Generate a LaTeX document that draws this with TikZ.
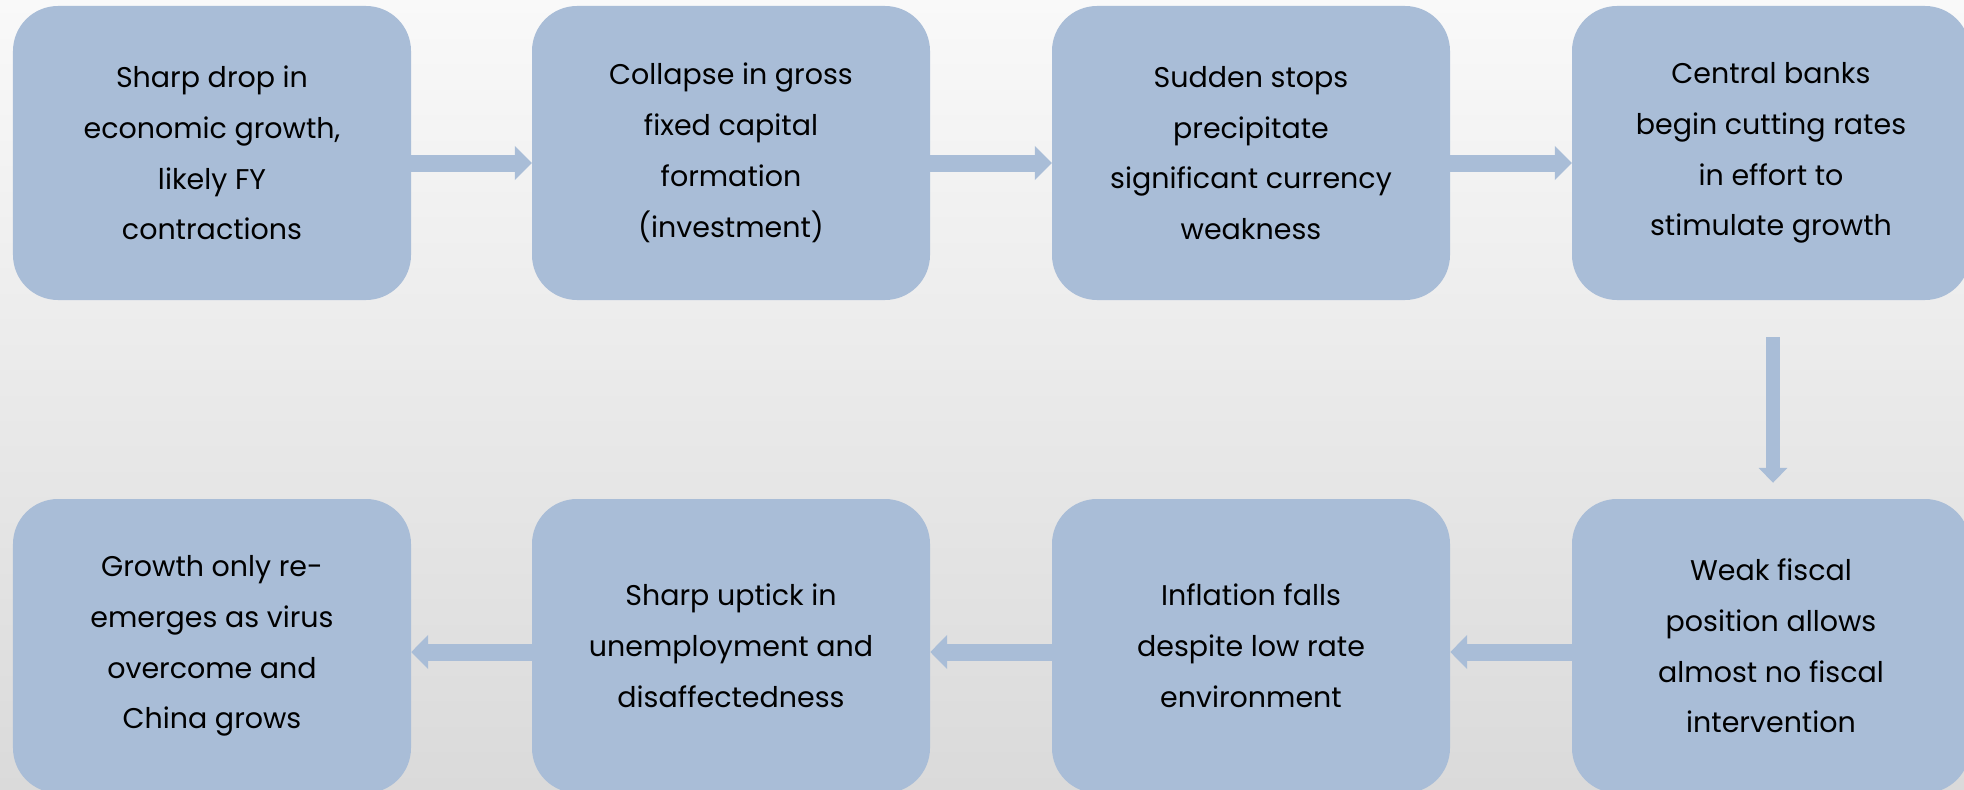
\documentclass[tikz,border=0pt]{standalone}
\usepackage{fontspec}
\setmainfont{Poppins}
\usetikzlibrary{arrows.meta}
\definecolor{boxfill}{RGB}{169,189,215}
\definecolor{bgtop}{RGB}{249,249,249}
\definecolor{bgmid}{RGB}{236,236,236}
\definecolor{bgbot}{RGB}{218,218,218}
\tikzset{
  stage/.style={fill=boxfill, draw=none, rounded corners=45bp,
    minimum width=398bp, minimum height=294bp, inner sep=0pt,
    align=center, text=black,
    font=\fontsize{28.6}{51}\selectfont},
  flowh/.style={draw=boxfill, line width=17bp,
    -{Triangle[width=33bp,length=17bp]}},
  flowv/.style={draw=boxfill, line width=14bp,
    -{Triangle[width=28bp,length=15bp]}}
}
\begin{document}
\begin{tikzpicture}[x=1bp, y=-1bp]
  \useasboundingbox (0,0) rectangle (1964,790);
  \clip (0,0) rectangle (1964,790);
  \shade[top color=bgtop, middle color=bgmid, bottom color=bgbot] (0,0) rectangle (1964,790);

  % top row, read left to right
  \node[stage] (a1) at (212,153) {Sharp drop in\\economic growth,\\likely FY\\contractions};
  \node[stage] (a2) at (731,153) {Collapse in gross\\fixed capital\\formation\\(investment)};
  \node[stage] (a3) at (1251,153) {Sudden stops\\precipitate\\significant currency\\weakness};
  \node[stage] (a4) at (1771,153) {Central banks\\begin cutting rates\\in effort to\\stimulate growth};

  % bottom row, read right to left
  \node[stage] (b4) at (1771,646) {Weak fiscal\\position allows\\almost no fiscal\\intervention};
  \node[stage] (b3) at (1251,646) {Inflation falls\\despite low rate\\environment};
  \node[stage] (b2) at (731,646) {Sharp uptick in\\unemployment and\\disaffectedness};
  \node[stage] (b1) at (212,646) {Growth only re-\\emerges as virus\\overcome and\\China grows};

  % connectors
  \draw[flowh] ([yshift=-10bp]a1.east) -- ([yshift=-10bp]a2.west);
  \draw[flowh] ([yshift=-10bp]a2.east) -- ([yshift=-10bp]a3.west);
  \draw[flowh] ([yshift=-10bp]a3.east) -- ([yshift=-10bp]a4.west);
  \draw[flowv, shorten <=37bp, shorten >=16bp] ([xshift=2bp]a4.south) -- ([xshift=2bp]b4.north);
  \draw[flowh] ([yshift=-6bp]b4.west) -- ([yshift=-6bp]b3.east);
  \draw[flowh] ([yshift=-6bp]b3.west) -- ([yshift=-6bp]b2.east);
  \draw[flowh] ([yshift=-6bp]b2.west) -- ([yshift=-6bp]b1.east);
\end{tikzpicture}
\end{document}
